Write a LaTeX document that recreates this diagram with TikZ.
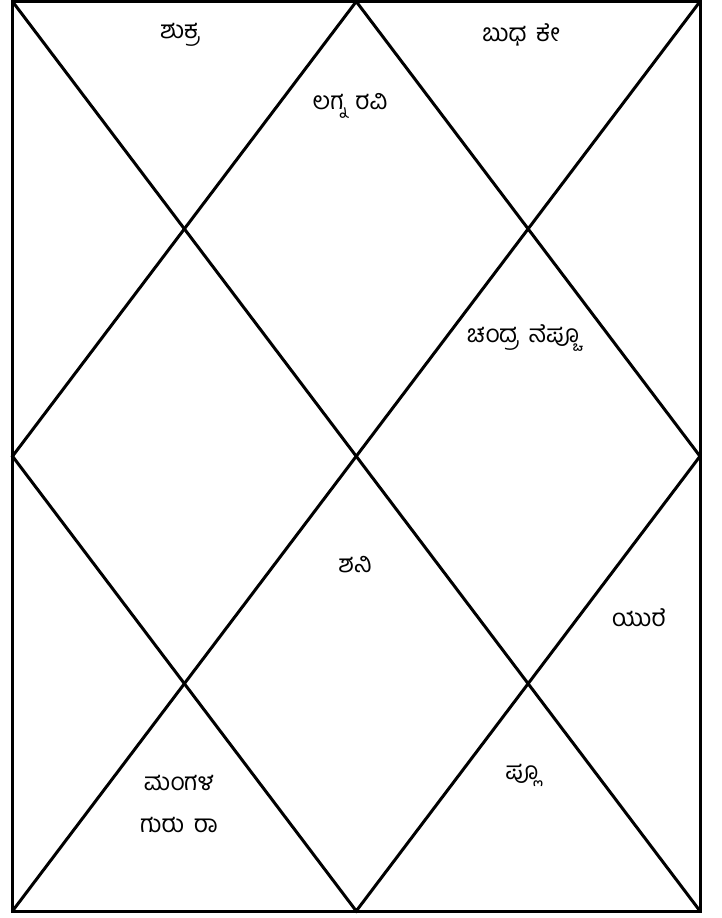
\documentclass[tikz,border=0pt]{standalone}
\usepackage{fontspec}
\newfontfamily\kan[Script=Kannada,WordSpace=1.6]{Hind Mysuru}
\begin{document}
\begin{tikzpicture}[x=1pt,y=-1pt,
  chartline/.style={line width=3pt,line join=miter},
  lbl/.style={font=\kan\fontsize{24.5}{42}\selectfont,inner sep=0pt,align=center}]
\useasboundingbox (0,0) rectangle (722,918);
\coordinate (tl) at (12.5,1.5);
\coordinate (tr) at (700,1.5);
\coordinate (br) at (700,911);
\coordinate (bl) at (12.5,911);
\coordinate (tm) at (356.25,1.5);
\coordinate (rm) at (700,456.25);
\coordinate (bm) at (356.25,911);
\coordinate (lm) at (12.5,456.25);
\draw[chartline] (tl) rectangle (br);
\draw[chartline] (tl) -- (br);
\draw[chartline] (tr) -- (bl);
\draw[chartline] (tm) -- (rm) -- (bm) -- (lm) -- cycle;
\node[lbl] (h12) at (180,35) {ಶುಕ್ರ};
\node[lbl] (h2) at (521,35) {ಬುಧ ಕೇ};
\node[lbl] (h1) at (350,106) {ಲಗ್ನ ರವಿ};
\node[lbl] (h3) at (523,338) {ಚಂದ್ರ ನೆಪ್ಚೂ};
\node[lbl] (h7) at (355,565) {ಶನಿ};
\node[lbl] (h5) at (639,618) {ಯುರೆ};
\node[lbl] (h9) at (179,804) {ಮಂಗಳ\\ಗುರು ರಾ};
\node[lbl] (h6) at (522,775) {ಪ್ಲೂ};
\end{tikzpicture}
\end{document}
